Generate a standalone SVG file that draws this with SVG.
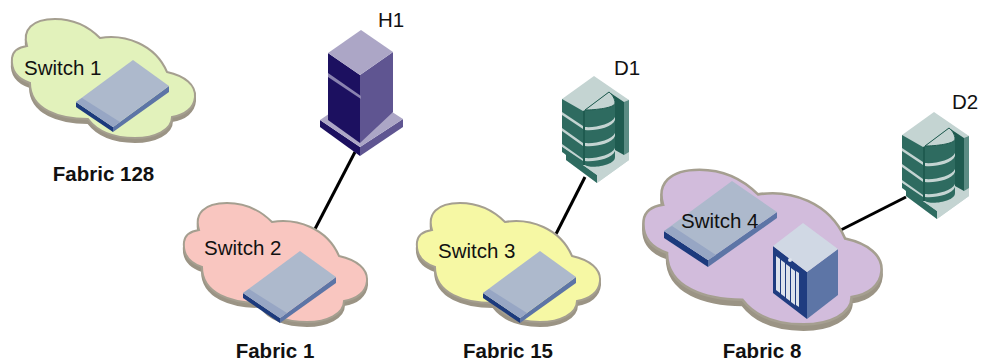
<svg xmlns="http://www.w3.org/2000/svg" xmlns:xlink="http://www.w3.org/1999/xlink" width="982" height="364" viewBox="0 0 982 364">
<style>
text{font-family:"Liberation Sans",Arial,sans-serif;font-size:20.5px;fill:#111}
.b{font-weight:bold;text-anchor:middle}
.c{stroke:#000;stroke-width:3;fill:none}
.cl{stroke:#a59f90;stroke-width:2}
.sh{fill:#9b9485;stroke:#9b9485;stroke-width:2}
</style>
<defs>
<path id="cloud" d="M27,46C22,30 32,19 55,19C75,19 90,28 100,38C125,34 155,44 167,72C185,76 196,85 195,97C194,108 185,115 172,117C172,130 155,138 135,138C115,138 98,132 88,119C60,119 30,110 30,83C15,78 11,68 12,58C13,50 20,47 27,46Z"/>
<g id="switch">
<polygon points="76,102 76,107 113,132 113,127" fill="#1c3a7d"/>
<polygon points="113,127 113,132 169,92 169,86" fill="#5d75a6"/>
<polygon points="133,60 169,86 113,127 76,102" fill="#adb9cc"/>
<polygon points="76,102 113,127 120,122 82,98" fill="#97a6c4"/>
</g>
<g id="disk">
<polygon points="594,76 629,100 629,160 597,183 566,160 566,150 562,147 562,99" fill="#c4d4d2"/>
<polygon points="566,153 597,175 597,183 566,160" fill="#2e6b60"/>
<polygon points="597,175 629,152 629,160 597,183" fill="#c4d4d2"/>
<polygon points="583,111 609,92 629,100 629,152 597,175 583,165" fill="#c4d4d2"/>
<polygon points="609,92 624,102 624,155 615,150 615,100" fill="#1f5b50"/>
<polygon points="624,102 629,100 629,152 624,155" fill="#5b8c84"/>
<g fill="#2e6b60">
<polygon points="562,99 583,111 583,126 562,112"/>
<polygon points="562,115 583,129 583,143 562,128"/>
<polygon points="562,131 583,146 583,159 562,144"/>
<polygon points="562,147 583,162 583,165 566,155 562,150"/>
<polygon points="562,147 583,161 583,165 580,164 562,152"/>
</g>
<path d="M585,110V165C590,169 615,166 615,157V105C615,100 612,94 609,92Z" fill="#2e6b60"/>
<path d="M585,110C595,110 615,108 615,103C615,99 612,94 609,92Z" fill="#c4d4d2" stroke="#1f5b50"/>
<path d="M585,127C595,128 612,124 615,117V120C612,128 595,131 585,130ZM585,143C595,144 612,140 615,133V136C612,144 595,147 585,146ZM585,158C595,159 612,155 615,148V151C612,159 595,162 585,161Z" fill="#c4d4d2"/>
<polygon points="583,111 585,110 585,165 583,165" fill="#1f5b50"/>
</g>
</defs>
<g id="connectors">
<line class="c" x1="355" y1="152" x2="315" y2="229"/>
<line class="c" x1="585" y1="177" x2="556" y2="234"/>
<line class="c" x1="906" y1="197" x2="827" y2="237"/>
<line class="c" x1="743" y1="243" x2="773" y2="265"/>
</g>
<g id="fabric128">
<use href="#cloud" class="sh" y="4"/><use href="#cloud" class="cl" fill="#e2f2bb"/>
<use href="#switch"/>
<text x="24" y="75">Switch 1</text>
<text x="103.500" y="181" class="b">Fabric 128</text>
</g>
<g id="fabric1">
<g transform="translate(172,184)"><use href="#cloud" class="sh" y="4"/><use href="#cloud" class="cl" fill="#f9c6c0"/></g>
<use href="#switch" x="167" y="191"/>
<text x="204" y="255">Switch 2</text>
<text x="275" y="358" class="b">Fabric 1</text>
</g>
<g id="fabric15">
<g transform="translate(405,184)"><use href="#cloud" class="sh" y="4"/><use href="#cloud" class="cl" fill="#f6f8a4"/></g>
<use href="#switch" x="407" y="191"/>
<text x="438" y="258">Switch 3</text>
<text x="508" y="358" class="b">Fabric 15</text>
</g>
<g id="fabric8">
<g transform="translate(628,145) scale(1.3)"><use href="#cloud" class="sh" y="4"/><use href="#cloud" class="cl" fill="#d2bcdc"/></g>
<g id="switch4">
<polygon points="664,231 664,238 708,267 708,260" fill="#1c3a7d"/>
<polygon points="708,260 708,267 777,218 777,212" fill="#5d75a6"/>
<polygon points="732,181 777,212 708,260 664,231" fill="#adb9cc"/>
<polygon points="664,231 708,260 716,255 672,226" fill="#97a6c4"/>
</g>
<text x="681" y="228">Switch 4</text>
<text x="762" y="358" class="b">Fabric 8</text>
</g>
<g id="chassis">
<polygon points="773,246 807,272 807,319 773,293" fill="#1f3c80"/>
<polygon points="807,272 838,249 838,295 807,319" fill="#5d75a6"/>
<polygon points="803,223 838,249 807,272 773,246" fill="#d0d8e4"/>
<g fill="#dde3ec"><polygon points="776,256 780,259 780,293 776,290"/><polygon points="781,260 785,263 785,297 781,294"/><polygon points="786,264 790,267 790,301 786,298"/><polygon points="791,268 795,271 795,305 791,302"/><polygon points="796,271 799,273 799,307 796,305"/></g>
<circle cx="790" cy="260" r="2" fill="#dde3ec"/>
</g>
<g id="H1">
<polygon points="320,120 360,147 360,156 320,127" fill="#1c1060"/>
<polygon points="360,147 403,119 403,127 360,156" fill="#5f5591"/>
<polygon points="320,120 361,92 403,119 360,147" fill="#aca6c6"/>
<polygon points="328,53 360,75 360,143 328,120" fill="#1c1060"/>
<polygon points="360,75 393,52 393,112 360,143" fill="#5f5591"/>
<polygon points="361,30 393,52 360,75 328,53" fill="#aca6c6"/>
<polygon points="328,73 361,96 361,99 328,77" fill="#8a83b0"/>
<text x="378" y="27">H1</text>
</g>
<g id="D1"><use href="#disk"/><text x="614" y="75">D1</text></g>
<g id="D2"><use href="#disk" x="340" y="36"/><text x="952" y="109">D2</text></g>
</svg>
